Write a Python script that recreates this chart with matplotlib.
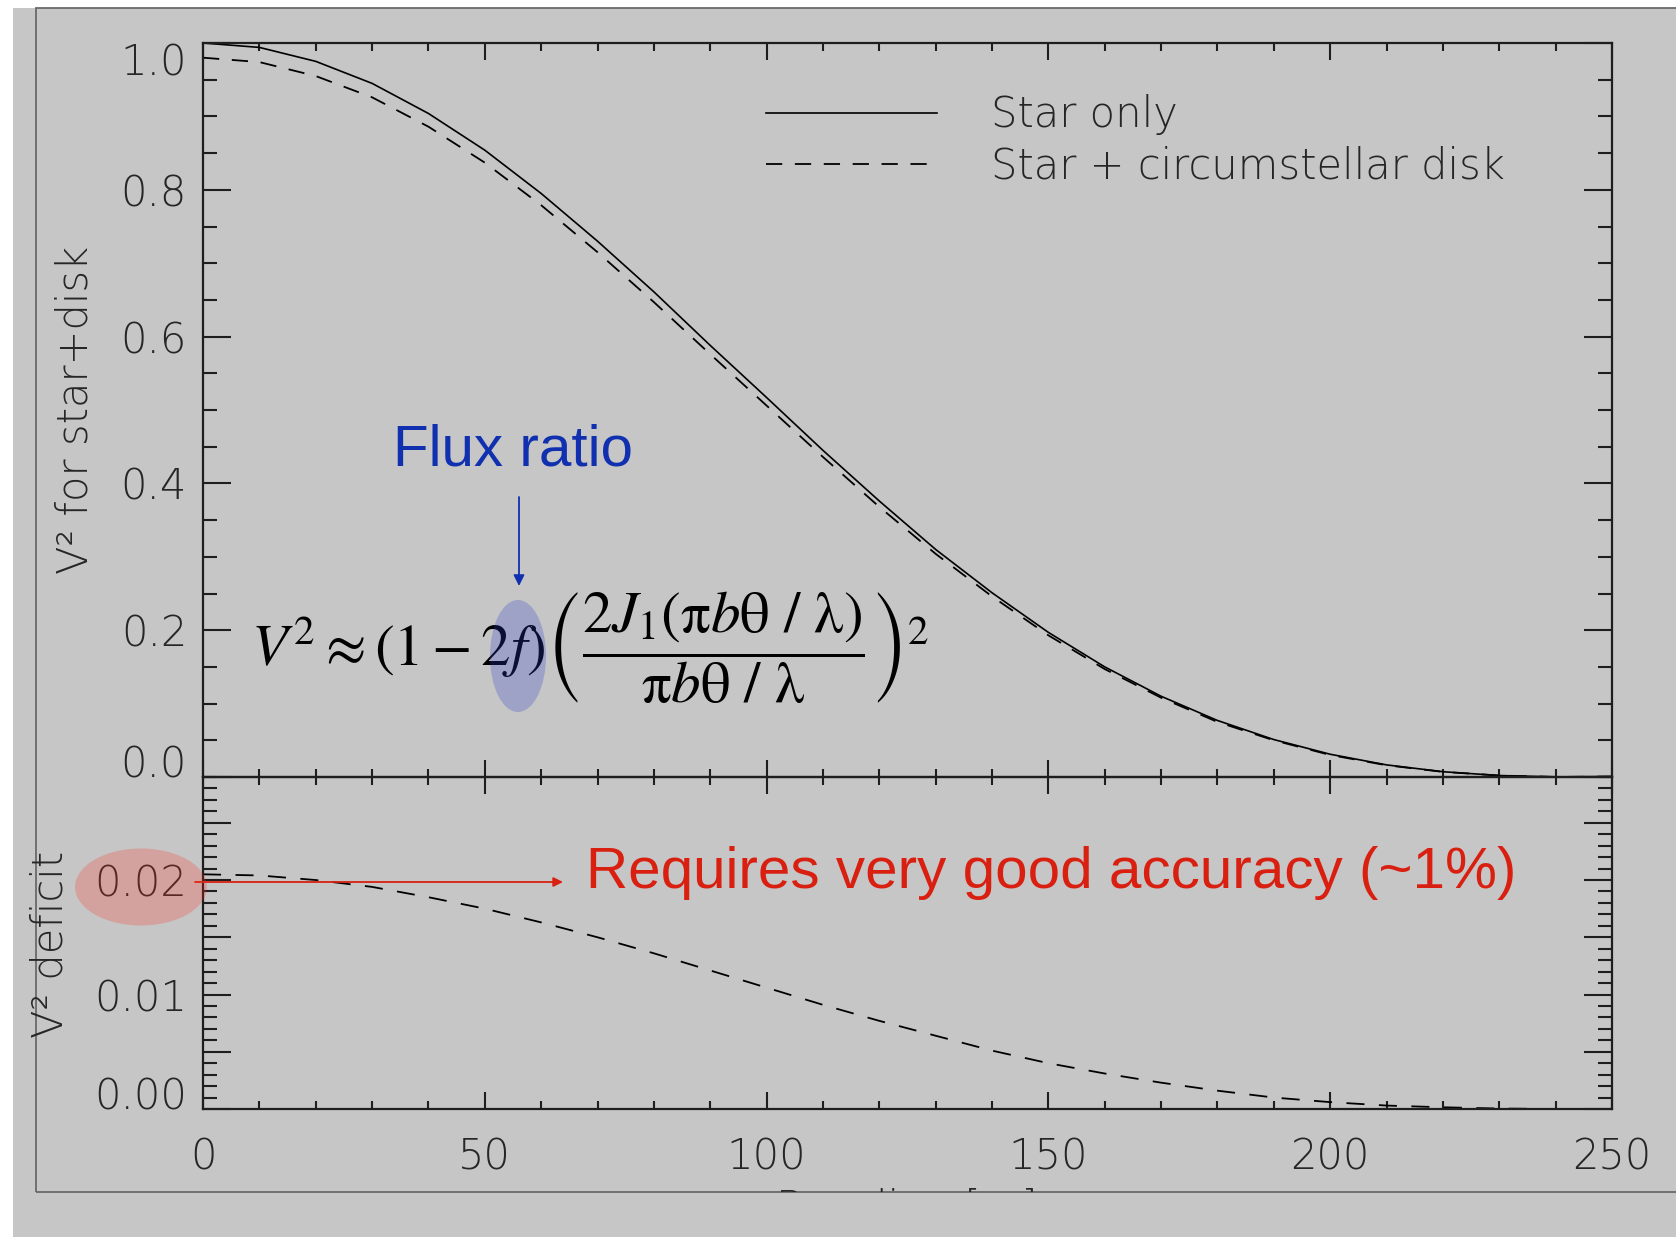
import numpy as np
import matplotlib.pyplot as plt
from matplotlib.patches import Ellipse, Rectangle, FancyArrowPatch
from matplotlib.transforms import Bbox, TransformedBbox

W, H = 1676, 1237

# baseline [m] and squared visibilities
baseline = [0, 10, 20, 30, 40, 50, 60, 70, 80, 90, 100, 110, 120, 130,
            140, 150, 160, 170, 180, 190, 200, 210, 220, 230, 240, 250]
v2_star = [1.000, 0.994, 0.975, 0.945, 0.904, 0.854, 0.795, 0.730, 0.661,
           0.588, 0.517, 0.445, 0.376, 0.310, 0.251, 0.197, 0.150, 0.110,
           0.077, 0.051, 0.031, 0.0165, 0.0072, 0.0020, 0.0001, 0.0006]
v2_disk = [0.980, 0.974, 0.955, 0.926, 0.886, 0.837, 0.779, 0.715, 0.647,
           0.576, 0.506, 0.436, 0.368, 0.304, 0.246, 0.193, 0.147, 0.108,
           0.075, 0.050, 0.030, 0.016, 0.007, 0.002, 0.0001, 0.0006]
deficit = [0.0205, 0.0204, 0.0200, 0.0194, 0.0185, 0.0175, 0.0163, 0.0150,
           0.0136, 0.0121, 0.0106, 0.0091, 0.0077, 0.0064, 0.0051, 0.0040,
           0.0031, 0.0023, 0.0016, 0.0010, 0.0006, 0.0003, 0.00015, 0.00004,
           0.0, 0.00001]

series_labels = ["Star only", "Star + circumstellar disk"]

top_ticks = [0.0, 0.2, 0.4, 0.6, 0.8, 1.0]
top_ticklabels = ["0.0", "0.2", "0.4", "0.6", "0.8", "1.0"]
low_ticks = [0.0, 0.005, 0.01, 0.015, 0.02, 0.025]
low_ticklabels = ["0.00", "", "0.01", "", "0.02", ""]
x_ticks = [0, 50, 100, 150, 200, 250]

plt.rcParams['font.family'] = ['DejaVu Sans']
plt.rcParams['font.weight'] = 200
plt.rcParams['mathtext.fontset'] = 'stix'

GRAY = '#c6c6c6'
INK = '#262626'
RED = '#d92010'
BLUE = '#1030b0'
FS = 30

fig = plt.figure(figsize=(W / 100, H / 100), dpi=100)
fig.patch.set_facecolor('white')
fig.patches.append(Rectangle((13 / W, 0), 1, 1 - 8 / H, transform=fig.transFigure,
                             facecolor=GRAY, edgecolor='none', zorder=-10))
fig.patches.append(Rectangle((36 / W, 1 - 1192 / H), 1, 1184 / H,
                             transform=fig.transFigure, fill=False,
                             edgecolor='#6a6a6a', lw=1.3, zorder=-5))

ax1 = fig.add_axes([203 / W, 1 - 777 / H, 1409 / W, 734 / H])
ax2 = fig.add_axes([203 / W, 1 - 1109 / H, 1409 / W, 332 / H])


def style_axes(ax):
    ax.set_facecolor('none')
    for s in ax.spines.values():
        s.set_linewidth(1.6)
        s.set_color('#1e1e1e')
    ax.set_xlim(0, 250)
    ax.set_xticks(x_ticks)
    ax.set_xticks(np.arange(0, 251, 10), minor=True)
    ax.tick_params(which='both', direction='in', top=True, right=True,
                   width=1.5, color='#1e1e1e', labelcolor=INK, labelsize=FS)
    ax.tick_params(axis='y', which='major', length=20, pad=11.5)
    ax.tick_params(axis='y', which='minor', length=10)
    ax.tick_params(axis='x', which='major', length=12, pad=20)
    ax.tick_params(axis='x', which='minor', length=6)


# upper panel: visibilities
style_axes(ax1)
ax1.plot(baseline, v2_star, color='black', lw=1.2, label=series_labels[0])
ax1.plot(baseline, v2_disk, color='black', lw=1.3, linestyle=(0, (9, 7)),
         label=series_labels[1])
ax1.set_ylim(0, 1.0)
ax1.set_yticks(top_ticks)
ax1.set_yticklabels(top_ticklabels)
ax1.set_yticks(np.arange(0, 1.001, 0.05), minor=True)
ax1.tick_params(axis='x', labelbottom=False)
yt = ax1.yaxis.get_major_ticks()
yt[0].label1.set_va('baseline')
yt[-1].label1.set_va('top')

leg = ax1.legend(loc='upper left', bbox_to_anchor=(0.3996, 0.93),
                 frameon=False, fontsize=30, handlelength=4.1,
                 handletextpad=1.3, labelspacing=0.25, borderpad=0,
                 borderaxespad=0)
for t in leg.get_texts():
    t.set_color(INK)

# lower panel: visibility deficit
style_axes(ax2)
ax2.plot(baseline, deficit, color='black', lw=1.3, linestyle=(0, (10, 8)))
ax2.set_ylim(0, 0.029)
ax2.set_yticks(low_ticks)
ax2.set_yticklabels(low_ticklabels)
ax2.set_yticks(np.arange(0, 0.0291, 0.001), minor=True)
ax2.yaxis.get_major_ticks()[0].label1.set_va('baseline')

fig.text(75 / W, 1 - 410 / H, 'V² for star+disk', rotation=90, ha='center',
         va='center', fontsize=FS, color=INK)
fig.text(50 / W, 1 - 944 / H, 'V² deficit', rotation=90, ha='center',
         va='center', fontsize=FS, color=INK)

# axis title, cut by the frame
xl = fig.text(907 / W, 1 - 1187 / H, 'Baseline [m]', ha='center', va='top',
              fontsize=FS, color=INK)
xl.set_clip_box(TransformedBbox(Bbox([[36 / W, 1 - 1192 / H], [1, 1]]),
                                fig.transFigure))
xl.set_clip_on(True)

# visibility formula with the flux ratio highlighted
fig.text(251 / W, 1 - 648 / H,
         r'$V^2 \approx (1-2f)\left(\dfrac{2J_1(\mathrm{\pi} b\mathrm{\theta}\ /\ \mathrm{\lambda})}'
         r'{\mathrm{\pi} b\mathrm{\theta}\ /\ \mathrm{\lambda}}\right)^2$',
         ha='left', va='center', fontsize=42.5, color='black', weight='normal')
fig.patches.append(Ellipse((518 / W, 1 - 656 / H), 56 / W, 112 / H,
                           transform=fig.transFigure, facecolor='#283cc8',
                           alpha=0.26, edgecolor='none', zorder=5))
fig.text(393 / W, 1 - 451 / H, 'Flux ratio', ha='left', va='center',
         fontsize=42, color=BLUE, family='Liberation Sans', weight='normal')
fig.add_artist(FancyArrowPatch(
    (519 / W, 1 - 497 / H), (519 / W, 1 - 586 / H),
    transform=fig.transFigure, arrowstyle='-|>', mutation_scale=16,
    color=BLUE, lw=1.3, shrinkA=0, shrinkB=0))

# accuracy note
fig.patches.append(Ellipse((141 / W, 1 - 887 / H), 132 / W, 77 / H,
                           transform=fig.transFigure, facecolor='#ff3020',
                           alpha=0.24, edgecolor='none', zorder=5))
fig.add_artist(FancyArrowPatch(
    (195 / W, 1 - 882 / H), (563 / W, 1 - 882 / H),
    transform=fig.transFigure, arrowstyle='-|>', mutation_scale=14,
    color=RED, lw=1.3, shrinkA=0, shrinkB=0))
fig.text(586 / W, 1 - 873 / H, 'Requires very good accuracy (~1%)', ha='left',
         va='center', fontsize=42, color=RED, family='Liberation Sans',
         weight='normal')

fig.savefig('out.png', dpi=100, facecolor=fig.get_facecolor())
